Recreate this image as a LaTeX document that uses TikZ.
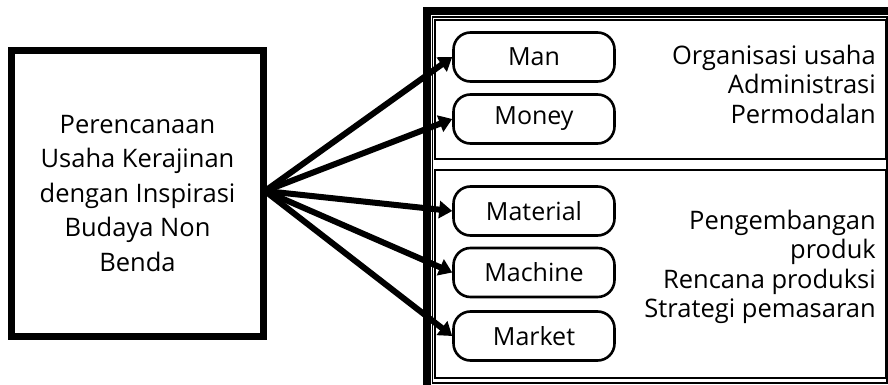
\documentclass[tikz,border=0pt]{standalone}
\usepackage{fontspec}
\setmainfont{Open Sans}
\usetikzlibrary{arrows.meta}
\tikzset{every picture/.style={x=1pt,y=-1pt}}
\tikzset{plan/.style={draw,line width=7,minimum width=252,minimum height=286,align=center,font=\fontsize{25.5}{34.5}\selectfont}}
\tikzset{factor/.style={draw,line width=2.6,rounded corners=17,minimum width=161,minimum height=49,font=\fontsize{25}{29}\selectfont}}
\tikzset{group/.style={draw,line width=2,inner sep=0}}
\tikzset{note/.style={anchor=east,align=right,inner sep=0,font=\fontsize{25.5}{29.5}\selectfont}}
\tikzset{edge/.style={line width=6,-{Triangle[length=13,width=17]}}}

\begin{document}
\begin{tikzpicture}
\path [use as bounding box,clip] (0,0) rectangle (888,385);

\draw [line width=8] (427,11) rectangle (893,390);
\draw [line width=1.2] (432.5,17) rectangle (887,383);
\node [group,minimum width=451,minimum height=139] (g1) at (660.5,89.5) {};
\node [group,minimum width=451,minimum height=208] (g2) at (660.5,274) {};

\node [plan] (p) at (137.5,193.5) {Perencanaan\\Usaha Kerajinan\\dengan Inspirasi\\Budaya Non\\Benda};
\coordinate (o) at (265,191);

\node [factor] (m1) at (534,57) {Man};
\node [factor] (m2) at (534,119) {Money};
\node [factor] (m3) at (534,211) {Material};
\node [factor] (m4) at (534,272.5) {Machine};
\node [factor] (m5) at (534,336) {Market};

\node [note] (t1) at (876,84) {Organisasi usaha\\Administrasi\\Permodalan};
\node [note] (t2) at (876,267) {Pengembangan\\produk\\Rencana produksi\\Strategi pemasaran};

\draw [edge] (o) -- (m1.west);
\draw [edge] (o) -- (m2.west);
\draw [edge] (o) -- (m3.west);
\draw [edge] (o) -- (m4.west);
\draw [edge] (o) -- (m5.west);
\end{tikzpicture}
\end{document}
